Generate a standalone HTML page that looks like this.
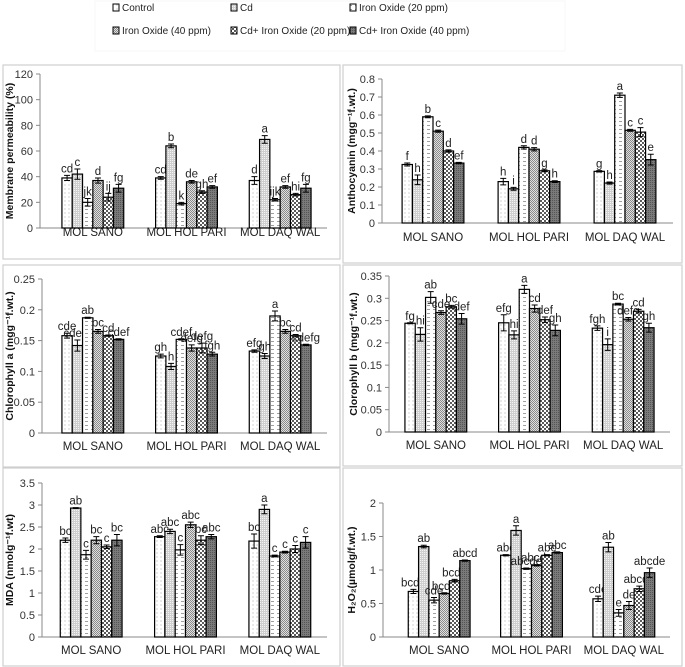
<!DOCTYPE html>
<html><head><meta charset="utf-8"><style>
body{margin:0;background:#fff;}
svg{display:block;font-family:"Liberation Sans",sans-serif;}
</style></head><body>
<svg id="fig" width="685" height="667" viewBox="0 0 685 667" xmlns="http://www.w3.org/2000/svg">
<defs>
<pattern id="p0" width="4" height="4" patternUnits="userSpaceOnUse"><rect width="4" height="4" fill="#fff"/><circle cx="1" cy="1" r="0.5" fill="#888"/></pattern>
<pattern id="p1" width="2" height="2" patternUnits="userSpaceOnUse"><rect width="2" height="2" fill="#cfcfcf"/><rect width="1" height="1" fill="#f4f4f4"/></pattern>
<pattern id="p2" width="6" height="4" patternUnits="userSpaceOnUse"><rect width="6" height="4" fill="#fff"/><rect x="1" y="1" width="3" height="0.8" fill="#888"/></pattern>
<pattern id="p3" width="2" height="2" patternUnits="userSpaceOnUse"><rect width="2" height="2" fill="#e0e0e0"/><rect width="1" height="1" fill="#8a8a8a"/><rect x="1" y="1" width="1" height="1" fill="#8a8a8a"/></pattern>
<pattern id="p4" width="4" height="4" patternUnits="userSpaceOnUse"><rect width="4" height="4" fill="#fff"/><rect width="2" height="2" fill="#5a5a5a"/><rect x="2" y="2" width="2" height="2" fill="#5a5a5a"/></pattern>
<pattern id="p5" width="2" height="2" patternUnits="userSpaceOnUse"><rect width="2" height="2" fill="#7a7a7a"/><rect width="1" height="1" fill="#555"/></pattern>
</defs>
<rect x="95" y="1" width="470" height="50" fill="none" stroke="#f7f7f7"/>
</svg>
<script>
const categories=["MOL SANO","MOL HOL PARI","MOL DAQ WAL"];
const seriesNames=["Control","Cd","Iron Oxide (20 ppm)","Iron Oxide (40 ppm)","Cd+ Iron Oxide (20 ppm)","Cd+ Iron Oxide (40 ppm)"];

const mpVals=[[39,42,20,37,24,31],[39,64,19,36,28,32],[37,69,22,32,26,31]];
const mpErr=[[2,4,3,2,3,3],[1,1.5,1,1,1,1],[3,3,1,1,1,3]];
const mpLetters=[["cd","c","jk","d","ij","fg"],["cd","b","k","de","gh","ef"],["d","a","ijk","ef","hi","fg"]];
const mpTicks=[0,20,40,60,80,100,120];

const anVals=[[0.325,0.24,0.59,0.51,0.40,0.333],[0.23,0.19,0.42,0.41,0.29,0.23],[0.287,0.222,0.71,0.515,0.505,0.352]];
const anErr=[[0.008,0.027,0.005,0.006,0.006,0.004],[0.018,0.008,0.009,0.009,0.005,0.005],[0.004,0.006,0.012,0.005,0.025,0.03]];
const anLetters=[["f","h","b","c","d","ef"],["h","i","d","d","g","h"],["g","h","a","c","c","e"]];
const anTicks=[0,0.1,0.2,0.3,0.4,0.5,0.6,0.7,0.8];

const caVals=[[0.158,0.142,0.187,0.165,0.158,0.152],[0.125,0.108,0.152,0.138,0.138,0.128],[0.133,0.125,0.19,0.165,0.158,0.143]];
const caErr=[[0.004,0.009,0.001,0.003,0.001,0.001],[0.003,0.005,0.001,0.005,0.008,0.003],[0.002,0.004,0.008,0.003,0.002,0.001]];
const caLetters=[["cde","cdefg","ab","bc","cd","cdef"],["gh","h","cdef","defg","defg","fgh"],["efg","gh","a","bc","cd","cdefg"]];
const caTicks=[0,0.05,0.1,0.15,0.2,0.25];

const cbVals=[[0.244,0.219,0.302,0.268,0.281,0.254],[0.245,0.218,0.32,0.277,0.252,0.228],[0.233,0.196,0.287,0.253,0.271,0.234]];
const cbErr=[[0.001,0.015,0.013,0.004,0.003,0.012],[0.018,0.009,0.009,0.008,0.006,0.012],[0.005,0.013,0.002,0.004,0.004,0.01]];
const cbLetters=[["fg","hi","ab","cde","bc","def"],["efg","hi","a","cd","def","gh"],["fgh","i","bc","defg","cd","gh"]];
const cbTicks=[0,0.05,0.1,0.15,0.2,0.25,0.3,0.35];

const mdaVals=[[2.2,2.93,1.87,2.2,2.05,2.2],[2.28,2.4,1.98,2.55,2.2,2.28],[2.18,2.9,1.84,1.93,2.0,2.15]];
const mdaErr=[[0.05,0.01,0.1,0.08,0.04,0.13],[0.02,0.05,0.12,0.06,0.1,0.05],[0.16,0.1,0.02,0.02,0.08,0.13]];
const mdaLetters=[["bc","ab","c","bc","c","bc"],["abc","abc","c","abc","bc","abc"],["bc","a","c","c","c","c"]];
const mdaTicks=[0,0.5,1,1.5,2,2.5,3,3.5];

const hVals=[[0.68,1.35,0.55,0.65,0.84,1.14],[1.22,1.59,1.02,1.07,1.22,1.26],[0.57,1.34,0.36,0.47,0.72,0.96]];
const hErr=[[0.03,0.02,0.04,0.01,0.02,0.01],[0.01,0.07,0.01,0.01,0.01,0.01],[0.04,0.07,0.05,0.06,0.04,0.07]];
const hLetters=[["bcde","ab","cde","bcde","bcde","abcd"],["abc","a","abcde","abcde","abc","abc"],["cde","ab","e","de","abcde","abcde"]];
const hTicks=[0,0.5,1,1.5,2];

const NS="http://www.w3.org/2000/svg";
const svg=document.getElementById("fig");
function mk(tag,attrs,parent){const e=document.createElementNS(NS,tag);for(const k in attrs)e.setAttribute(k,attrs[k]);(parent||svg).appendChild(e);return e;}

const legX=[113,231,350],legY=[11,34];
seriesNames.forEach((n,i)=>{
  const x=legX[i%3],y=legY[Math.floor(i/3)];
  const g=mk("g",{});
  
  
  mk("rect",{x:x,y:y-7,width:6,height:7,fill:"url(#p"+i+")",stroke:"#000","stroke-width":1},g);
  const t=mk("text",{x:x+9,y:y,"font-size":10,fill:"#222"},g);t.textContent=n;
});

const panels=[
 {vals:mpVals,err:mpErr,let:mpLetters,ticks:mpTicks,title:"Membrane permeability (%)",box:[3,65,337,194],ax:40,x0:46,x1:327,yT:74,yB:228,lab:236,tx:13,name:"membrane-permeability-chart"},
 {vals:anVals,err:anErr,let:anLetters,ticks:anTicks,title:"Anthocyanin (mgg\u207B\u00B9f.wt.)",box:[343,65,339,198],ax:382,x0:385,x1:673,yT:79,yB:223,lab:241,tx:355,name:"anthocyanin-chart"},
 {vals:caVals,err:caErr,let:caLetters,ticks:caTicks,title:"Chlorophyll a (mgg\u207B\u00B9f.wt.)",box:[3,265,337,202],ax:42,x0:46,x1:327,yT:279,yB:433,lab:450,tx:13,name:"chlorophyll-a-chart"},
 {vals:cbVals,err:cbErr,let:cbLetters,ticks:cbTicks,title:"Clorophyll b (mgg\u207B\u00B9f.wt.)",box:[343,265,339,201],ax:389,x0:389,x1:670,yT:276,yB:432,lab:449,tx:357,name:"chlorophyll-b-chart"},
 {vals:mdaVals,err:mdaErr,let:mdaLetters,ticks:mdaTicks,title:"MDA (nmolg\u207B\u00B9f.wt)",box:[3,468,337,198],ax:42,x0:44,x1:327,yT:483,yB:637,lab:654,tx:13,name:"mda-chart"},
 {vals:hVals,err:hErr,let:hLetters,ticks:hTicks,title:"H\u2082O\u2082(\u00B5molg/f.wt.)",box:[343,468,339,198],ax:383,x0:393,x1:670,yT:503,yB:637,lab:654,tx:355,name:"h2o2-chart"}
];

panels.forEach(p=>{
  const g=mk("g",{});
  
  
  mk("rect",{x:p.box[0],y:p.box[1],width:p.box[2],height:p.box[3],fill:"#fff",stroke:"#cfcfcf","stroke-width":1.2},g);
  const maxT=p.ticks[p.ticks.length-1];
  const y=v=>p.yB-(v/maxT)*(p.yB-p.yT);
  const cw=(p.x1-p.x0)/3;
  const ya=mk("line",{x1:p.ax,y1:p.yT,x2:p.ax,y2:p.yB,stroke:"#888","stroke-width":1},g);
  
  
  const xa=mk("line",{x1:p.ax,y1:p.yB,x2:p.x1,y2:p.yB,stroke:"#888","stroke-width":1},g);
  
  
  p.ticks.forEach(t=>{
    mk("line",{x1:p.ax-4,y1:y(t),x2:p.ax,y2:y(t),stroke:"#888"},g);
    const tl=mk("text",{x:p.ax-7,y:y(t)+4,"font-size":11,"text-anchor":"end",fill:"#333"},g);
    
    
    tl.textContent=String(t);
  });
  const cy=(p.yT+p.yB)/2;
  const tt=mk("text",{x:p.tx,y:cy,"font-size":10.5,"font-weight":"bold","text-anchor":"middle",fill:"#111",transform:"rotate(-90 "+p.tx+" "+cy+")"},g);
  
  
  tt.textContent=p.title;
  const bw=10.3;
  categories.forEach((c,ci)=>{
    const cx=p.x0+(ci+0.5)*cw;
    const cl=mk("text",{x:cx,y:p.lab,"font-size":11.5,"text-anchor":"middle",fill:"#222"},g);
    
    
    cl.textContent=c;
    p.vals[ci].forEach((v,si)=>{
      const bx=cx-3*bw+si*bw;
      const r=mk("rect",{x:bx,y:y(v),width:bw,height:p.yB-y(v),fill:"url(#p"+si+")",stroke:"#000","stroke-width":1.2},g);
      
      
      const e=p.err[ci][si],mx=bx+bw/2;
      const eb=mk("path",{d:"M"+mx+" "+y(v-e)+"V"+y(v+e)+"M"+(mx-3)+" "+y(v-e)+"h6M"+(mx-3)+" "+y(v+e)+"h6",stroke:"#000","stroke-width":1,fill:"none"},g);
      
      
      const lt=mk("text",{x:mx,y:y(v+e)-3,"font-size":11.5,"text-anchor":"middle",fill:"#222"},g);
      
      
      lt.textContent=p.let[ci][si];
    });
  });
});
</script>
</body></html>
